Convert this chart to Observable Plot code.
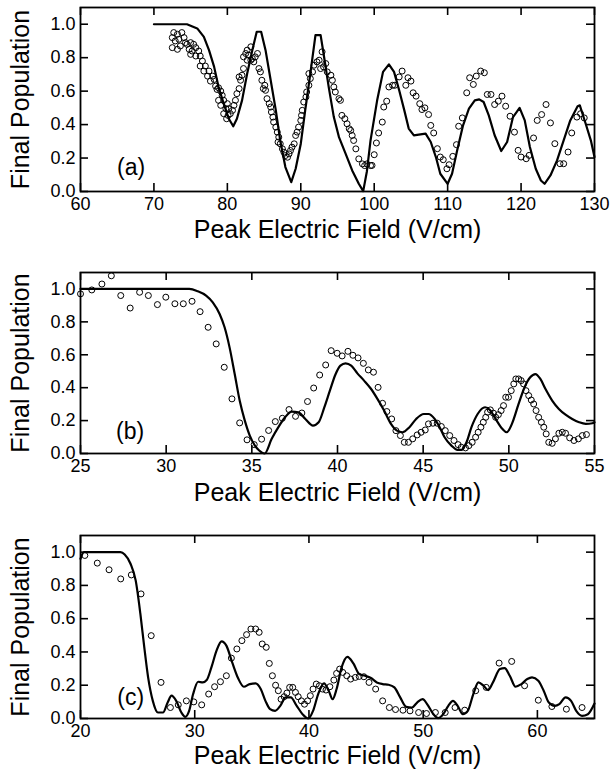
<!DOCTYPE html>
<html>
<head>
<meta charset="utf-8">
<script src="https://cdn.jsdelivr.net/npm/d3@7"></script>
<script src="https://cdn.jsdelivr.net/npm/@observablehq/plot@0.6"></script>
<style>
  body { margin: 0; background: #fff; }
  #chart { width: 613px; }
  #chart svg { display: block; }
</style>
</head>
<body>
<div id="chart"></div>
<script>
// ---------- data ----------
const yTicks = [0, 0.2, 0.4, 0.6, 0.8, 1.0];
const xTicksA = [60, 70, 80, 90, 100, 110, 120, 130];
const xTicksB = [25, 30, 35, 40, 45, 50, 55];
const xTicksC = [20, 30, 40, 50, 60];
const xTitle = "Peak Electric Field (V/cm)";
const yTitle = "Final Population";
const panelLabels = ["(a)", "(b)", "(c)"];
const panelLabelX = [66.9, 27.9, 24.4];
const panelLabelY = [0.14, 0.13, 0.125];

// panel (a): theory line [field, population]
const lineA = [[70,1.0],[72,1.0],[74.5,1.0],[75.9,0.975],[76.8,0.924],[77.5,0.845],[78.2,0.745],[78.8,0.625],[79.5,0.525],[80.2,0.435],[80.8,0.39],[81.3,0.435],[82.0,0.545],[82.7,0.705],[83.4,0.845],[84.0,0.955],[84.6,0.955],[85.2,0.845],[85.9,0.665],[86.6,0.485],[87.2,0.305],[87.9,0.146],[88.7,0.056],[89.3,0.136],[90.0,0.286],[90.6,0.485],[91.3,0.705],[92.0,0.935],[92.7,0.935],[93.1,0.825],[93.8,0.625],[94.5,0.445],[95.2,0.325],[96.1,0.226],[97.0,0.126],[97.9,0.046],[98.5,0.002],[99.0,0.12],[99.5,0.306],[100.4,0.545],[101.2,0.715],[102.0,0.76],[102.7,0.715],[103.4,0.605],[104.1,0.485],[104.7,0.376],[105.4,0.336],[106.3,0.342],[107.0,0.346],[107.7,0.296],[108.4,0.206],[109.0,0.106],[110.0,0.046],[110.6,0.106],[111.3,0.246],[112.1,0.396],[112.9,0.495],[113.7,0.545],[114.3,0.551],[114.9,0.535],[115.6,0.455],[116.4,0.336],[117.3,0.242],[118.1,0.296],[118.9,0.445],[119.8,0.50],[120.5,0.425],[121.2,0.266],[122.0,0.136],[122.7,0.066],[123.2,0.046],[124.0,0.096],[124.9,0.186],[125.8,0.306],[126.7,0.425],[127.7,0.51],[128.0,0.515],[128.8,0.405],[129.5,0.306],[130,0.206]];

// panel (a): measured points
const dotsA = [[72.7,0.95],[73.2,0.94],[73.8,0.95],[72.5,0.92],[72.9,0.90],[73.4,0.91],[74.1,0.92],[72.5,0.86],[73.2,0.85],[73.6,0.87],[74.3,0.89],[74.5,0.88],[75.0,0.89],[75.4,0.88],[74.8,0.85],[75.2,0.84],[75.7,0.86],[76.1,0.84],[75.0,0.82],[75.7,0.81],[76.3,0.81],[76.6,0.78],[76.3,0.75],[77.0,0.75],[76.8,0.72],[77.5,0.72],[77.3,0.69],[78.0,0.69],[77.7,0.66],[78.2,0.67],[78.4,0.63],[78.8,0.62],[78.6,0.61],[79.1,0.60],[79.3,0.575],[78.8,0.545],[79.5,0.545],[80.0,0.525],[79.1,0.515],[79.8,0.495],[80.2,0.495],[79.5,0.465],[80.1,0.455],[80.4,0.465],[79.9,0.435],[80.7,0.485],[80.9,0.515],[81.1,0.545],[81.3,0.585],[81.6,0.615],[81.8,0.665],[81.6,0.685],[82.0,0.695],[82.2,0.735],[82.2,0.805],[82.5,0.825],[82.7,0.845],[83.2,0.865],[82.9,0.815],[83.4,0.795],[83.8,0.805],[83.6,0.775],[84.1,0.825],[82.7,0.785],[83.2,0.785],[84.3,0.735],[84.5,0.715],[84.7,0.665],[85.1,0.635],[84.9,0.615],[85.2,0.605],[85.4,0.555],[85.7,0.525],[85.9,0.505],[86.0,0.475],[86.2,0.445],[86.3,0.415],[86.6,0.385],[86.8,0.355],[87.0,0.325],[86.9,0.295],[87.2,0.285],[87.5,0.255],[87.7,0.235],[87.9,0.215],[88.2,0.205],[88.4,0.225],[88.6,0.245],[88.8,0.265],[89.1,0.285],[89.3,0.335],[89.5,0.355],[89.7,0.385],[90.0,0.425],[90.1,0.455],[90.2,0.485],[90.4,0.535],[90.7,0.565],[90.8,0.595],[91.1,0.635],[91.3,0.675],[91.1,0.705],[91.6,0.715],[91.8,0.755],[92.2,0.775],[92.5,0.785],[92.9,0.835],[92.7,0.735],[93.1,0.745],[93.4,0.765],[93.6,0.715],[94.1,0.695],[94.3,0.665],[94.5,0.625],[94.7,0.595],[95.2,0.555],[95.4,0.545],[95.6,0.455],[96.0,0.435],[96.3,0.405],[96.6,0.375],[96.8,0.365],[97.0,0.335],[97.2,0.305],[97.5,0.255],[97.9,0.195],[98.4,0.165],[98.7,0.155],[99.0,0.165],[99.5,0.155],[99.7,0.156],[100.0,0.22],[100.3,0.29],[100.6,0.35],[101.1,0.415],[101.3,0.505],[101.7,0.54],[102.0,0.625],[102.5,0.635],[102.8,0.635],[103.4,0.685],[103.8,0.72],[104.3,0.635],[104.6,0.68],[105.0,0.66],[105.3,0.59],[105.7,0.57],[106.2,0.525],[106.5,0.49],[106.9,0.50],[107.4,0.46],[107.7,0.395],[108.1,0.35],[108.6,0.256],[109.0,0.206],[109.4,0.19],[109.9,0.136],[110.2,0.16],[110.7,0.21],[111.2,0.28],[111.5,0.39],[112.0,0.44],[112.6,0.59],[113.0,0.68],[113.5,0.64],[113.9,0.69],[114.5,0.72],[115.0,0.71],[115.4,0.58],[115.9,0.58],[116.4,0.52],[116.9,0.54],[117.4,0.57],[117.9,0.51],[118.5,0.45],[119.1,0.355],[119.6,0.246],[120.0,0.206],[120.7,0.196],[121.1,0.216],[121.7,0.32],[122.2,0.425],[122.8,0.46],[123.4,0.52],[124.0,0.41],[124.6,0.286],[125.3,0.166],[125.8,0.166],[126.4,0.236],[126.9,0.35],[127.6,0.445],[128.1,0.465],[128.6,0.44]];

// panel (b): theory line
const lineB = [[25,1.0],[31.35,1.0],[31.84,0.986],[32.33,0.96],[32.72,0.919],[33.12,0.848],[33.41,0.767],[33.7,0.645],[34.0,0.483],[34.29,0.322],[34.59,0.2],[34.88,0.109],[35.18,0.048],[35.43,0.018],[35.75,0.0],[36.16,0.089],[36.55,0.16],[36.94,0.22],[37.33,0.255],[37.72,0.25],[38.12,0.21],[38.57,0.17],[38.9,0.19],[39.23,0.28],[39.55,0.38],[39.88,0.48],[40.17,0.534],[40.47,0.548],[40.8,0.534],[41.16,0.487],[41.55,0.443],[41.94,0.395],[42.33,0.332],[42.72,0.261],[43.12,0.18],[43.47,0.139],[43.8,0.129],[44.2,0.16],[44.59,0.21],[45.04,0.24],[45.31,0.24],[45.67,0.21],[45.96,0.16],[46.25,0.099],[46.65,0.048],[47.0,0.022],[47.23,0.022],[47.53,0.068],[47.82,0.16],[48.18,0.24],[48.61,0.281],[48.9,0.265],[49.23,0.21],[49.63,0.149],[49.88,0.129],[50.18,0.18],[50.57,0.301],[50.92,0.403],[51.25,0.463],[51.55,0.483],[51.84,0.453],[52.14,0.392],[52.53,0.322],[52.92,0.271],[53.31,0.236],[53.7,0.21],[54.1,0.19],[54.49,0.18],[54.88,0.184],[55,0.19]];

// panel (b): measured points
const dotsB = [[25.0,0.97],[25.66,0.994],[26.25,1.03],[26.8,1.08],[27.35,0.96],[27.9,0.884],[28.45,0.98],[28.96,0.96],[29.49,0.905],[29.98,0.95],[30.51,0.91],[31.0,0.91],[31.51,0.925],[31.98,0.862],[32.45,0.767],[32.92,0.666],[33.39,0.524],[33.84,0.332],[34.29,0.186],[34.72,0.083],[35.14,0.054],[35.57,0.087],[35.98,0.14],[36.37,0.194],[36.78,0.214],[37.17,0.267],[37.55,0.226],[37.92,0.246],[38.25,0.316],[38.61,0.398],[38.96,0.477],[39.31,0.538],[39.63,0.625],[39.98,0.609],[40.27,0.593],[40.61,0.621],[40.9,0.597],[41.2,0.581],[41.51,0.548],[41.8,0.508],[42.1,0.494],[42.37,0.402],[42.63,0.305],[42.88,0.255],[43.16,0.21],[43.41,0.139],[43.67,0.109],[43.9,0.068],[44.14,0.068],[44.39,0.089],[44.65,0.113],[44.88,0.129],[45.12,0.143],[45.31,0.18],[45.57,0.184],[45.82,0.184],[46.06,0.164],[46.29,0.139],[46.55,0.109],[46.8,0.079],[47.04,0.054],[47.23,0.038],[47.47,0.034],[47.67,0.048],[47.86,0.068],[48.06,0.099],[48.21,0.129],[48.37,0.16],[48.51,0.19],[48.65,0.22],[48.76,0.251],[48.92,0.265],[49.1,0.245],[49.23,0.22],[49.39,0.236],[49.55,0.261],[49.69,0.291],[49.82,0.342],[49.98,0.342],[50.14,0.382],[50.29,0.423],[50.41,0.453],[50.57,0.453],[50.72,0.443],[50.86,0.423],[51.0,0.382],[51.16,0.352],[51.31,0.325],[51.45,0.301],[51.59,0.261],[51.74,0.22],[51.9,0.19],[52.04,0.16],[52.18,0.119],[52.33,0.068],[52.53,0.062],[52.72,0.089],[52.92,0.123],[53.12,0.129],[53.31,0.123],[53.55,0.095],[53.8,0.079],[54.06,0.089],[54.29,0.109],[54.53,0.115]];

// panel (c): theory line
const lineC = [[20,0.96],[20.3,1.0],[23.5,1.0],[23.87,0.986],[24.38,0.93],[24.83,0.83],[25.24,0.63],[25.58,0.43],[25.92,0.247],[26.33,0.106],[26.78,0.036],[27.22,0.036],[27.63,0.096],[27.97,0.137],[28.38,0.106],[28.83,0.036],[29.17,0.01],[29.51,0.046],[29.86,0.147],[30.3,0.221],[30.71,0.217],[31.05,0.231],[31.46,0.307],[31.91,0.408],[32.35,0.464],[32.77,0.438],[33.28,0.337],[33.79,0.243],[34.3,0.191],[34.82,0.207],[35.33,0.211],[35.78,0.177],[36.19,0.106],[36.6,0.056],[37.04,0.046],[37.49,0.076],[37.97,0.127],[38.41,0.127],[38.93,0.076],[39.44,0.026],[39.95,0.0],[40.36,0.046],[40.81,0.147],[41.32,0.211],[41.73,0.167],[42.07,0.116],[42.42,0.177],[42.86,0.307],[43.37,0.371],[43.89,0.331],[44.4,0.267],[44.91,0.257],[45.43,0.243],[45.94,0.217],[46.45,0.207],[46.97,0.203],[47.48,0.187],[47.99,0.127],[48.51,0.07],[49.02,0.066],[49.47,0.096],[49.95,0.116],[50.39,0.082],[50.9,0.026],[51.31,0.002],[51.76,0.026],[52.2,0.076],[52.61,0.106],[53.02,0.076],[53.47,0.026],[53.91,0.046],[54.39,0.147],[54.84,0.217],[55.28,0.197],[55.69,0.171],[56.11,0.217],[56.72,0.297],[57.13,0.303],[57.58,0.257],[58.09,0.191],[58.6,0.207],[59.12,0.237],[59.53,0.247],[60.08,0.227],[60.55,0.167],[61.0,0.096],[61.51,0.076],[61.92,0.086],[62.47,0.127],[62.95,0.106],[63.4,0.046],[63.91,0.016],[64.42,0.026],[65.0,0.09]];

// panel (c): measured points
const dotsC = [[20.38,0.98],[21.47,0.934],[22.5,0.894],[23.52,0.839],[24.45,0.863],[25.3,0.749],[26.19,0.498],[27.05,0.217],[27.87,0.066],[28.56,0.082],[29.27,0.106],[29.92,0.1],[30.61,0.082],[31.22,0.147],[31.74,0.191],[32.25,0.221],[32.77,0.257],[33.21,0.363],[33.69,0.418],[34.13,0.468],[34.54,0.504],[34.92,0.538],[35.33,0.538],[35.64,0.518],[35.91,0.448],[36.26,0.428],[36.53,0.331],[36.8,0.257],[37.08,0.2],[37.32,0.167],[37.56,0.116],[37.83,0.131],[38.07,0.153],[38.31,0.187],[38.58,0.187],[38.82,0.157],[39.06,0.131],[39.34,0.106],[39.61,0.086],[39.88,0.106],[40.12,0.137],[40.36,0.177],[40.64,0.207],[40.91,0.197],[41.18,0.177],[41.49,0.171],[41.83,0.191],[42.18,0.231],[42.42,0.271],[42.69,0.297],[42.96,0.277],[43.31,0.257],[43.65,0.237],[44.06,0.247],[44.4,0.253],[44.81,0.251],[45.26,0.217],[45.84,0.177],[46.45,0.106],[47.04,0.066],[47.58,0.054],[48.23,0.05],[48.85,0.046],[49.6,0.036],[50.29,0.03],[51.07,0.036],[51.93,0.036],[52.79,0.066],[53.64,0.05],[54.6,0.167],[55.52,0.187],[56.65,0.333],[57.75,0.343],[58.88,0.197],[60.08,0.11],[61.27,0.072],[62.54,0.056],[63.91,0.066]];

// ---------- drawing ----------
const W = 613, ML = 80, MR = 19;
const FONT = "'Liberation Sans', Arial, Helvetica, sans-serif";

function panel({xDomain, xTicks, line, dots, curve, height, mt, mb, titleDy, idx}) {
  const fh = height - mt - mb;
  const fw = W - ML - MR;
  return Plot.plot({
    width: W, height,
    marginLeft: ML, marginRight: MR, marginTop: mt, marginBottom: mb,
    x: {domain: xDomain},
    y: {domain: [0, 1.1]},
    style: {fontFamily: FONT, fontSize: "18px", color: "black", background: "white", overflow: "visible"},
    marks: [
      Plot.line(line, {x: d => d[0], y: d => d[1], stroke: "black", strokeWidth: 2.2, curve}),
      Plot.dot(dots, {x: d => d[0], y: d => d[1], r: 3, stroke: "black", strokeWidth: 1, fill: "none"}),
      Plot.ruleX(xTicks, {insetTop: fh - 8, stroke: "black", strokeWidth: 1.6}),
      Plot.ruleX(xTicks, {insetBottom: fh - 8, stroke: "black", strokeWidth: 1.6}),
      Plot.ruleY(yTicks, {insetRight: fw - 8, stroke: "black", strokeWidth: 1.6}),
      Plot.ruleY(yTicks, {insetLeft: fw - 8, stroke: "black", strokeWidth: 1.6}),
      Plot.frame({stroke: "black", strokeWidth: 1.8}),
      Plot.axisX(xTicks, {anchor: "bottom", tickSize: 0, tickPadding: 6, label: null, tickFormat: d => String(d)}),
      Plot.axisY(yTicks, {anchor: "left", tickSize: 0, tickPadding: 5, label: null, tickFormat: d3.format(".1f")}),
      Plot.text([panelLabels[idx]], {x: [panelLabelX[idx]], y: [panelLabelY[idx]], text: d => d, fontSize: 23, fill: "black"}),
      Plot.text([xTitle], {frameAnchor: "bottom", dy: titleDy, fontSize: 25, fill: "black"}),
      Plot.text([yTitle], {frameAnchor: "left", dx: -60, rotate: -90, textAnchor: "middle", fontSize: 25, fill: "black"})
    ]
  });
}

const chart = document.getElementById("chart");
chart.append(panel({xDomain: [60, 130], xTicks: xTicksA, line: lineA, dots: dotsA, curve: "linear", height: 258, mt: 7, mb: 67, titleDy: 46, idx: 0}));
chart.append(panel({xDomain: [25, 55], xTicks: xTicksB, line: lineB, dots: dotsB, curve: "monotone-x", height: 267, mt: 14, mb: 72, titleDy: 47, idx: 1}));
chart.append(panel({xDomain: [20, 65], xTicks: xTicksC, line: lineC, dots: dotsC, curve: "monotone-x", height: 256, mt: 10, mb: 63, titleDy: 45, idx: 2}));
</script>
</body>
</html>
